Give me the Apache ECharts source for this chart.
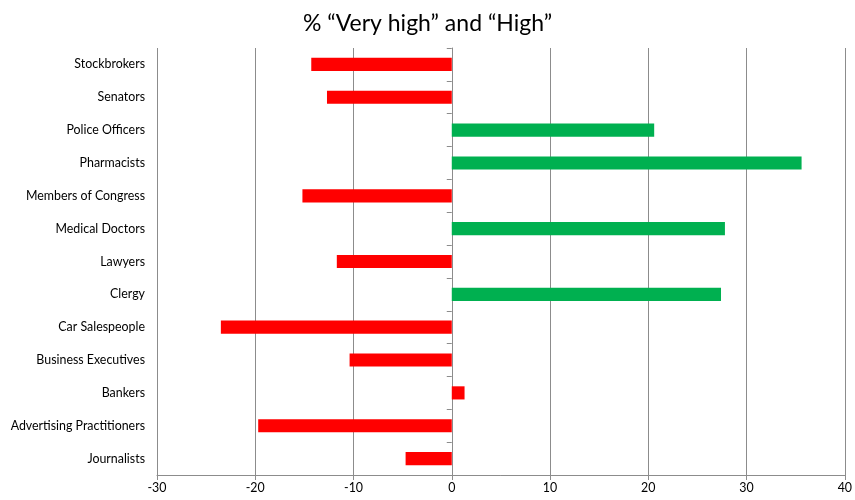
<!DOCTYPE html>
<html><head><meta charset="utf-8">
<script src="https://cdn.jsdelivr.net/npm/echarts@6/dist/echarts.min.js"></script>
<style>html,body{margin:0;padding:0;background:#fff}#c{width:855px;height:500px}</style>
</head><body><div id="c"></div>
<script>
const categories = ["Journalists","Advertising Practitioners","Bankers","Business Executives","Car Salespeople","Clergy","Lawyers","Medical Doctors","Members of Congress","Pharmacists","Police Officers","Senators","Stockbrokers"];
const redValues = [-4.7, -19.7, 1.3, -10.4, -23.5, null, -11.7, null, -15.2, null, null, -12.7, -14.3];
const greenValues = [null, null, null, null, null, 27.4, null, 27.8, null, 35.6, 20.6, null, null];
const titleText = "% \u201cVery high\u201d and \u201cHigh\u201d";

const font = "Lato, 'Open Sans', sans-serif";
const chart = echarts.init(document.getElementById('c'));
chart.setOption({
  animation: false,
  title: {text: titleText, left: 'center', top: 7,
    textStyle: {fontFamily: font, fontSize: 23, fontWeight: 'normal', color: '#000'}},
  grid: {left: 157, right: 10, top: 48, bottom: 25},
  xAxis: {type: 'value', min: -30, max: 40, interval: 10,
    axisLine: {show: true, lineStyle: {color: '#8c8c8c'}},
    axisTick: {show: true, length: 5, lineStyle: {color: '#8c8c8c'}},
    axisLabel: {fontFamily: font, fontSize: 12.4, color: '#000', margin: 7},
    splitLine: {show: true, lineStyle: {color: '#8c8c8c', width: 1}}},
  yAxis: [
    {type: 'category', data: categories, position: 'left',
     axisLine: {show: false, onZero: false}, axisTick: {show: false},
     axisLabel: {fontFamily: font, fontSize: 12.4, color: '#000', margin: 12},
     splitLine: {show: false}},
    {type: 'category', data: categories, position: 'left',
     axisLine: {show: true, onZero: true, onZeroAxisIndex: 0, lineStyle: {color: '#8c8c8c'}},
     axisTick: {show: true, length: 5, lineStyle: {color: '#8c8c8c'}},
     axisLabel: {show: false}, splitLine: {show: false}}
  ],
  series: [
    {type: 'bar', name: 'red', data: redValues, yAxisIndex: 0, barWidth: '40%', barGap: '-100%',
     itemStyle: {color: '#FF0000'}},
    {type: 'bar', name: 'green', data: greenValues, yAxisIndex: 0, barWidth: '40%', barGap: '-100%',
     itemStyle: {color: '#00B050'}}
  ]
});
</script></body></html>
